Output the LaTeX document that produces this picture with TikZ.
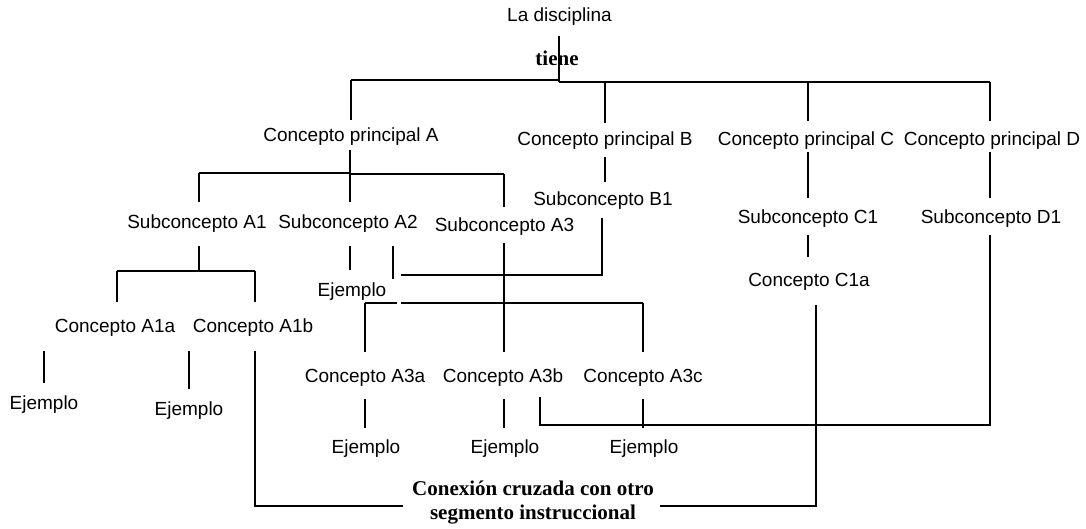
\documentclass[tikz,border=0pt]{standalone}
\usepackage{fontspec}
\setmainfont{Liberation Sans}
\newfontfamily\serifb{Liberation Serif}
\usetikzlibrary{calc}
\begin{document}
\begin{tikzpicture}[x=1pt,y=-1pt,
  lbl/.style={font=\fontsize{19}{22}\selectfont, inner sep=2pt, text height=14pt, text depth=4pt},
  srf/.style={font=\serifb\bfseries\fontsize{21}{24}\selectfont, inner sep=2pt, align=center},
  ln/.style={line width=1.6pt, line join=miter}]
\useasboundingbox (0,0) rectangle (1086,529);
% nodes
\node[lbl] (dis) at (559.5,17) {La disciplina};
\node[srf] (tiene) at (557,58) {tiene};
\node[lbl] (CPA) at (351,137) {Concepto principal A};
\node[lbl] (CPB) at (605,141) {Concepto principal B};
\node[lbl] (CPC) at (806,141) {Concepto principal C};
\node[lbl] (CPD) at (992,141) {Concepto principal D};
\node[lbl] (SA1) at (197,224) {Subconcepto A1};
\node[lbl] (SA2) at (348,224) {Subconcepto A2};
\node[lbl] (SA3) at (504.5,227) {Subconcepto A3};
\node[lbl] (SB1) at (603,201) {Subconcepto B1};
\node[lbl] (SC1) at (808,219) {Subconcepto C1};
\node[lbl] (SD1) at (991,219) {Subconcepto D1};
\node[lbl] (CC1a) at (809,282) {Concepto C1a};
\node[lbl] (EA2) at (352,291) {Ejemplo};
\node[lbl] (CA1a) at (115,327) {Concepto A1a};
\node[lbl] (CA1b) at (253,327) {Concepto A1b};
\node[lbl] (EA1a) at (44,404) {Ejemplo};
\node[lbl] (EA1b) at (189,410) {Ejemplo};
\node[lbl] (CA3a) at (365,377) {Concepto A3a};
\node[lbl] (CA3b) at (503,377) {Concepto A3b};
\node[lbl] (CA3c) at (643,377) {Concepto A3c};
\node[lbl] (EA3a) at (366,448) {Ejemplo};
\node[lbl] (EA3b) at (505,448) {Ejemplo};
\node[lbl] (EA3c) at (644,448) {Ejemplo};
\node[srf] (cx) at (533,503) {Conexión cruzada con otro\\segmento instruccional};
% junction coordinates
\coordinate (tT) at (559,82);
\coordinate (tAm) at (559,80);
\coordinate (tA) at (351,80);
\coordinate (tD) at (990,82);
\coordinate (aJ) at (350,173);
\coordinate (aJ2) at (350,174);
\coordinate (aL) at (199,173);
\coordinate (aR) at (504,174);
\coordinate (b1) at (199,271);
\coordinate (b1L) at (117,271);
\coordinate (b1R) at (255,271);
\coordinate (d1) at (393,275);
\coordinate (d2) at (602,275);
\coordinate (e1) at (365,303);
\coordinate (e2) at (643,303);
\coordinate (eg1) at (397,303);
\coordinate (eg2) at (401,303);
\coordinate (x1) at (255,506);
\coordinate (x2) at (816,506);
\coordinate (f1) at (540,425);
\coordinate (f2) at (990,425);
% top level
\draw[ln, shorten <=8pt] (dis.south -| tT) -- (tT);
\draw[ln] (tA) -- (tAm);
\draw[ln] (tT) -- (tD);
\draw[ln, shorten >=6pt] (tA) -- (tA |- CPA.north);
\draw[ln, shorten >=7pt] (tT -| CPB.north) -- (CPB.north);
\draw[ln, shorten >=9pt] (tT -| SC1.north) -- (SC1.north |- CPC.north);
\draw[ln, shorten >=9pt] (tD) -- (tD |- CPD.north);
% A branch
\draw[ln, line width=2.6pt, shorten <=2pt] (CPA.south -| aJ) -- (aJ);
\draw[ln, shorten >=11pt] (aJ) -- (aJ |- SA2.north);
\draw[ln] (aL) -- (aJ);
\draw[ln] (aJ2) -- (aR);
\draw[ln, shorten >=11pt] (aL) -- (aL |- SA1.north);
\draw[ln, shorten >=9pt] (aR) -- (aR |- SA3.north);
% B, C, D
\draw[ln, shorten <=5pt, shorten >=8pt] (CPB.south) -- (CPB.south |- SB1.north);
\draw[ln, shorten >=10pt] (SC1.north |- CPC.south) -- (SC1.north);
\draw[ln, shorten >=10pt] (tD |- CPD.south) -- (tD |- SD1.north);
\draw[ln, shorten <=5pt, shorten >=14pt] (SC1.south) -- (SC1.south |- CC1a.north);
% A1
\draw[ln, shorten <=11pt] (b1 |- SA1.south) -- (b1);
\draw[ln] (b1L) -- (b1R);
\draw[ln, shorten >=14pt] (b1L) -- (b1L |- CA1a.north);
\draw[ln, shorten >=14pt] (b1R) -- (b1R |- CA1b.north);
% A2
\draw[ln, shorten <=11pt, shorten >=10pt] (aJ |- SA2.south) -- (aJ |- EA2.north);
\draw[ln, shorten <=11pt, shorten >=-4pt] (d1 |- SA2.south) -- (d1);
\draw[ln, shorten >=6pt] ([xshift=8pt]d1) -- (d2) -- (d2 |- SB1.south);
% A3
\draw[ln, line width=2.4pt, shorten <=5pt, shorten >=14pt] (aR |- SA3.south) -- (aR |- CA3b.north);
\draw[ln] (e1) -- (eg1);
\draw[ln] (eg2) -- (e2);
\draw[ln, shorten >=14pt] (e1) -- (e1 |- CA3a.north);
\draw[ln, shorten >=14pt] (e2) -- (e2 |- CA3c.north);
% examples
\draw[ln, shorten <=13pt, shorten >=10pt] (EA1a.north |- CA1a.south) -- (EA1a.north);
\draw[ln, shorten <=13pt, shorten >=10pt] (EA1b.north |- CA1b.south) -- (EA1b.north);
\draw[ln, shorten <=11pt, shorten >=9pt] (e1 |- CA3a.south) -- (e1 |- EA3a.north);
\draw[ln, shorten <=11pt, shorten >=9pt] (aR |- CA3b.south) -- (aR |- EA3b.north);
\draw[ln, shorten <=11pt, shorten >=9pt] (e2 |- CA3c.south) -- (e2 |- EA3c.north);
% cross connections
\draw[ln, shorten <=13pt, shorten >=7pt] (x1 |- CA1b.south) -- (x1) -- (x1 -| cx.west);
\draw[ln, shorten <=4pt, shorten >=12pt] (cx.east |- x2) -- (x2) -- (x2 |- CC1a.south);
\draw[ln, shorten <=9pt, shorten >=5pt] (f1 |- CA3b.south) -- (f1) -- (f2) -- (f2 |- SD1.south);
\end{tikzpicture}
\end{document}
